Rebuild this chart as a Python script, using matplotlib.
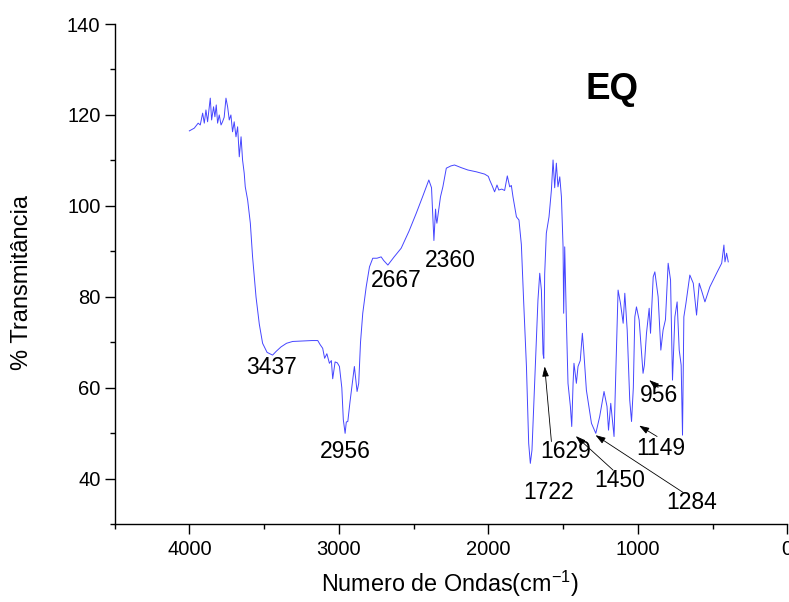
import matplotlib
matplotlib.use("Agg")
import matplotlib.pyplot as plt
from matplotlib.ticker import MultipleLocator

plt.rcParams['font.family'] = ['Liberation Sans', 'DejaVu Sans']
plt.rcParams['mathtext.fontset'] = 'custom'
plt.rcParams['mathtext.rm'] = 'Liberation Sans'
plt.rcParams['mathtext.it'] = 'Liberation Sans:italic'

# Spectrum data (wavenumber cm^-1, % transmittance)
wavenumber = [4000, 3967, 3941, 3927, 3911, 3900, 3889, 3878, 3867, 3860, 3851, 3838, 3829, 3820,
              3811, 3800, 3788, 3778, 3767, 3755, 3744, 3733, 3722, 3711, 3700, 3688, 3677, 3666,
              3654, 3644, 3633, 3626, 3610, 3592, 3577, 3554, 3532, 3510, 3480, 3443, 3420, 3387,
              3350, 3309, 3250, 3180, 3141, 3125, 3108, 3095, 3080, 3063, 3050, 3041, 3025, 3010,
              2996, 2980, 2970, 2958, 2950, 2940, 2925, 2910, 2896, 2878, 2867, 2855, 2840, 2817,
              2795, 2773, 2745, 2717, 2700, 2672, 2630, 2583, 2530, 2482, 2440, 2398, 2380, 2364,
              2353, 2348, 2344, 2320, 2304, 2281, 2250, 2226, 2180, 2137, 2080, 2025, 2000, 1991,
              1975, 1958, 1942, 1930, 1910, 1891, 1873, 1857, 1846, 1835, 1812, 1795, 1779, 1764,
              1745, 1730, 1719, 1708, 1690, 1668, 1656, 1645, 1634, 1629, 1623, 1612, 1594, 1578,
              1567, 1556, 1545, 1534, 1522, 1511, 1500, 1496, 1489, 1478, 1467, 1451, 1442, 1433,
              1427, 1411, 1400, 1385, 1371, 1362, 1344, 1310, 1281, 1255, 1226, 1206, 1196, 1181,
              1170, 1159, 1132, 1116, 1098, 1087, 1071, 1054, 1042, 1030, 1020, 1009, 991, 965,
              956, 942, 924, 915, 897, 886, 864, 846, 831, 815, 797, 781, 768, 752, 737, 723, 710,
              701, 692, 678, 652, 629, 607, 589, 570, 551, 518, 473, 439, 424, 417, 406, 395]
transmittance = [116.5, 117.1, 118.2, 117.8, 120.4, 118.2, 121.1, 118.5, 121.8, 123.7, 118.9, 121.8,
                 119.6, 122.2, 118.2, 120.0, 117.8, 118.5, 119.5, 123.7, 121.8, 118.9, 120.0, 116.3,
                 118.5, 115.2, 117.4, 110.8, 115.2, 110.1, 107.2, 104.2, 101.3, 96.2, 88.8, 80.0,
                 74.0, 69.8, 67.8, 67.2, 68.0, 69.0, 69.8, 70.2, 70.3, 70.4, 70.4, 69.5, 68.7, 66.5,
                 67.5, 65.4, 66.0, 62.0, 65.7, 65.5, 64.7, 60.0, 53.0, 50.0, 52.5, 52.6, 57.0, 61.0,
                 64.7, 59.2, 61.0, 70.0, 76.4, 82.2, 86.6, 88.5, 88.5, 88.8, 88.0, 87.0, 88.8, 90.7,
                 94.5, 98.4, 102.0, 105.7, 104.0, 92.4, 99.3, 97.0, 96.2, 102.0, 104.2, 108.3, 108.8,
                 109.0, 108.4, 107.9, 107.5, 107.0, 106.5, 105.7, 104.5, 103.1, 104.6, 103.5, 103.7,
                 103.4, 106.6, 104.2, 104.5, 102.0, 97.6, 96.9, 91.5, 79.3, 64.7, 47.8, 43.4, 46.3,
                 61.0, 79.3, 85.2, 81.5, 67.5, 66.5, 85.0, 94.0, 97.6, 103.5, 110.1, 104.0, 109.4,
                 104.2, 106.4, 102.0, 91.0, 76.4, 91.0, 75.0, 61.0, 55.9, 51.5, 61.0, 65.4, 61.0,
                 64.7, 66.0, 72.0, 68.3, 59.5, 52.2, 50.0, 53.7, 59.2, 55.9, 50.7, 56.6, 53.0, 49.3,
                 81.5, 78.6, 74.2, 80.8, 72.7, 57.3, 52.6, 60.0, 75.6, 77.8, 74.9, 63.2, 65.0, 72.0,
                 77.5, 72.0, 84.4, 85.5, 80.0, 68.3, 72.7, 75.0, 87.4, 83.7, 61.7, 75.6, 78.9, 68.3,
                 65.0, 49.6, 75.6, 78.6, 84.8, 83.0, 76.0, 83.0, 81.0, 78.9, 82.2, 85.2, 87.4, 91.4,
                 87.7, 89.6, 87.7]

# Peak annotations: label text and its centre (wn, T); arrows tail -> head
peak_labels = ["3437", "2956", "2667", "2360", "1629", "1722", "1450", "1284", "1149", "956"]
label_x = [3451, 2957, 2616, 2254, 1484, 1598, 1121, 638, 846, 861]
label_y = [64.4, 45.9, 83.5, 88.1, 45.9, 37.1, 39.7, 34.7, 46.6, 58.3]
arrow_labels = ["1629", "1450", "1284", "1149", "956"]
arrow_tail_x = [1578, 1165, 697, 871, 864]
arrow_tail_y = [48.2, 41.9, 37.0, 49.3, 60.1]
arrow_head_x = [1623, 1415, 1283, 991, 924]
arrow_head_y = [64.7, 49.4, 49.6, 51.7, 61.7]

fig = plt.figure(figsize=(7.89, 6.02), dpi=100)
ax = fig.add_axes([114.6 / 789, 1 - 524.3 / 602, (787.3 - 114.6) / 789, (524.3 - 24) / 602])

ax.plot(wavenumber, transmittance, color='#4545ff', lw=0.7)

ax.set_xlim(4500, 0)
ax.set_ylim(30, 140)
ax.xaxis.set_major_locator(MultipleLocator(1000))
ax.xaxis.set_minor_locator(MultipleLocator(500))
ax.yaxis.set_major_locator(MultipleLocator(20))
ax.yaxis.set_minor_locator(MultipleLocator(10))
ax.set_yticks([40, 60, 80, 100, 120, 140])
ax.tick_params(which='major', direction='out', length=7.2, width=1.0, labelsize=14.5, colors='black')
ax.tick_params(which='minor', direction='out', length=3.6, width=1.0)
ax.tick_params(axis='x', which='major', pad=4)
ax.tick_params(axis='y', which='major', pad=3)
ax.spines['top'].set_visible(False)
ax.spines['right'].set_visible(False)
for s in ('left', 'bottom'):
    ax.spines[s].set_linewidth(1.0)

for lab, x, y in zip(peak_labels, label_x, label_y):
    ax.text(x, y, lab, fontsize=16.5, ha='center', va='center', color='black')

for tx, ty, hx, hy in zip(arrow_tail_x, arrow_tail_y, arrow_head_x, arrow_head_y):
    ax.annotate('', xy=(hx, hy), xytext=(tx, ty),
                arrowprops=dict(arrowstyle='-|>,head_length=0.6,head_width=0.2',
                                color='black', lw=0.6, shrinkA=0, shrinkB=0))

ax.text(1171, 123.5, 'EQ', fontsize=26.5, fontweight='bold', ha='center', va='baseline')

fig.text(450 / 789, 1 - 584 / 602, 'Numero de Ondas(cm$^{-1}$)', fontsize=16.8,
         ha='center', va='center')
fig.text(21.7 / 789, 1 - 283 / 602, '% Transmitância', fontsize=17, rotation=90,
         ha='center', va='center')

fig.savefig('out.png', dpi=100)
